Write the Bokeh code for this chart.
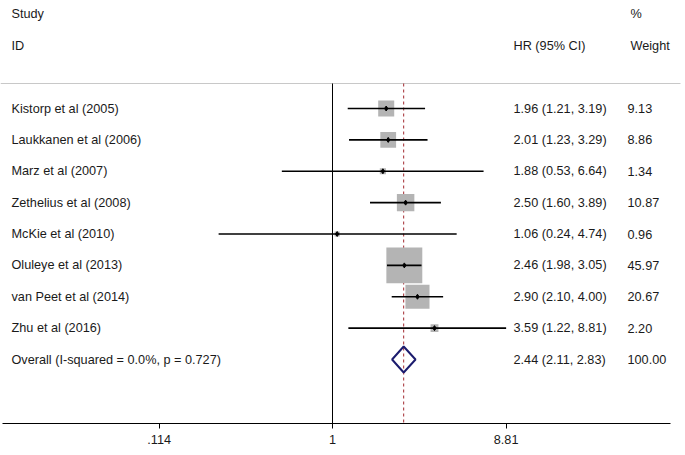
import math
from bokeh.plotting import figure
from bokeh.models import Range1d, FixedTicker, ColumnDataSource
from bokeh.core.properties import value
from bokeh.embed import file_html
from bokeh.resources import INLINE

# ---------------- data ----------------
studies = ["Kistorp et al (2005)", "Laukkanen et al (2006)", "Marz et al  (2007)",
           "Zethelius et al (2008)", "McKie et al (2010)", "Oluleye et al (2013)",
           "van Peet et al  (2014)", "Zhu et al  (2016)"]
hr = [1.96, 2.01, 1.88, 2.50, 1.06, 2.46, 2.90, 3.59]
ci_low = [1.21, 1.23, 0.53, 1.60, 0.24, 1.98, 2.10, 1.22]
ci_high = [3.19, 3.29, 6.64, 3.89, 4.74, 3.05, 4.00, 8.81]
weight = [9.13, 8.86, 1.34, 10.87, 0.96, 45.97, 20.67, 2.20]

overall_label = "Overall  (I-squared = 0.0%, p = 0.727)"
overall_hr = 2.44
overall_low = 2.11
overall_high = 2.83
overall_weight = 100.00

tick_values = [0.114, 1.0, 8.81]
tick_labels = [".114", "1", "8.81"]

# ---------------- layout constants ----------------
FONT = value("Liberation Sans")
FS = "12.7px"
TXT = "#1a1a1a"
PX_PER_LN = 79.8           # pixels per natural-log unit
NULL_PX = 332              # page x of HR = 1


def xpos(px):
    """page pixel -> data x on log scale"""
    return math.exp((px - NULL_PX) / PX_PER_LN)


ROW0_PX, ROW_STEP = 108, 31.375
FRAME_H = 423


def yrow(py):
    return (py - ROW0_PX) / ROW_STEP


rows = list(range(len(studies)))
overall_row = len(studies)
sep_row = yrow(83)
y_top, y_bot = yrow(0), yrow(FRAME_H)

p = figure(frame_width=685, frame_height=FRAME_H, x_axis_type="log",
           x_range=Range1d(xpos(0), xpos(685)), y_range=Range1d(y_bot, y_top),
           y_axis_location=None, toolbar_location=None, output_backend="svg",
           min_border=0, outline_line_color=None, background_fill_color="white")
p.xgrid.visible = False
p.ygrid.visible = False

# axis
ax = p.xaxis[0]
ax.ticker = FixedTicker(ticks=tick_values)
ax.major_label_overrides = {v: l for v, l in zip(tick_values, tick_labels)}
ax.bounds = (xpos(2), xpos(670))
ax.axis_line_color = "black"
ax.axis_line_width = 1
ax.major_tick_in = 0
ax.major_tick_out = 5
ax.major_tick_line_color = "black"
ax.minor_tick_line_color = None
ax.major_label_standoff = 6
ax.major_label_text_font = "Liberation Sans"
ax.major_label_text_font_size = FS
ax.major_label_text_color = TXT

# separator
p.segment(x0=[xpos(0)], x1=[xpos(680)], y0=[sep_row], y1=[sep_row],
          line_color="#c8c8c8", line_width=1)

# null line and overall dashed line
p.segment(x0=[1], x1=[1], y0=[sep_row], y1=[y_bot], line_color="black", line_width=1)
p.segment(x0=[overall_hr], x1=[overall_hr], y0=[sep_row], y1=[y_bot],
          line_color="#a3282e", line_width=1, line_dash="3 3")

# boxes
src = ColumnDataSource(dict(
    y=rows, hr=hr, lo=ci_low, hi=ci_high, w=weight,
    size=[5.3 * math.sqrt(w) for w in weight],
    name=studies,
    hrtxt=[f"{h:.2f} ({l:.2f}, {u:.2f})" for h, l, u in zip(hr, ci_low, ci_high)],
    wtxt=[f"{w:.2f}" for w in weight],
))
p.scatter(x="hr", y="y", size="size", marker="square", source=src,
          fill_color="#b4b4b4", line_color=None)
p.segment(x0="lo", x1="hi", y0="y", y1="y", source=src, line_color="black", line_width=1.6)
p.scatter(x="hr", y="y", size=5, marker="diamond", source=src,
          fill_color="black", line_color="black")

# overall diamond
h = 13 / ROW_STEP
p.patch(x=[overall_low, overall_hr, overall_high, overall_hr],
        y=[overall_row, overall_row - h, overall_row, overall_row + h],
        fill_color=None, line_color="#1c1c6e", line_width=2)

# texts
left_x = xpos(11)
hr_x = xpos(513)
w_x = xpos(627)
hdr_w_x = xpos(630)


def txt(x, y, t):
    p.text(x=x, y=y, text=t, text_font=FONT, text_font_size=FS, text_color=TXT,
           text_align="left", text_baseline="middle")


txt([left_x, left_x], [-3, -2], ["Study", "ID"])
txt([hr_x], [-2], ["HR (95% CI)"])
txt([hdr_w_x, hdr_w_x], [-3, -2], ["%", "Weight"])
txt([left_x] * len(rows), rows, studies)
txt([hr_x] * len(rows), rows, src.data["hrtxt"])
txt([w_x] * len(rows), rows, src.data["wtxt"])
txt([left_x], [overall_row], [overall_label])
txt([hr_x], [overall_row], [f"{overall_hr:.2f} ({overall_low:.2f}, {overall_high:.2f})"])
txt([w_x], [overall_row], [f"{overall_weight:.2f}"])

open("out.html", "w").write(file_html(p, INLINE))
